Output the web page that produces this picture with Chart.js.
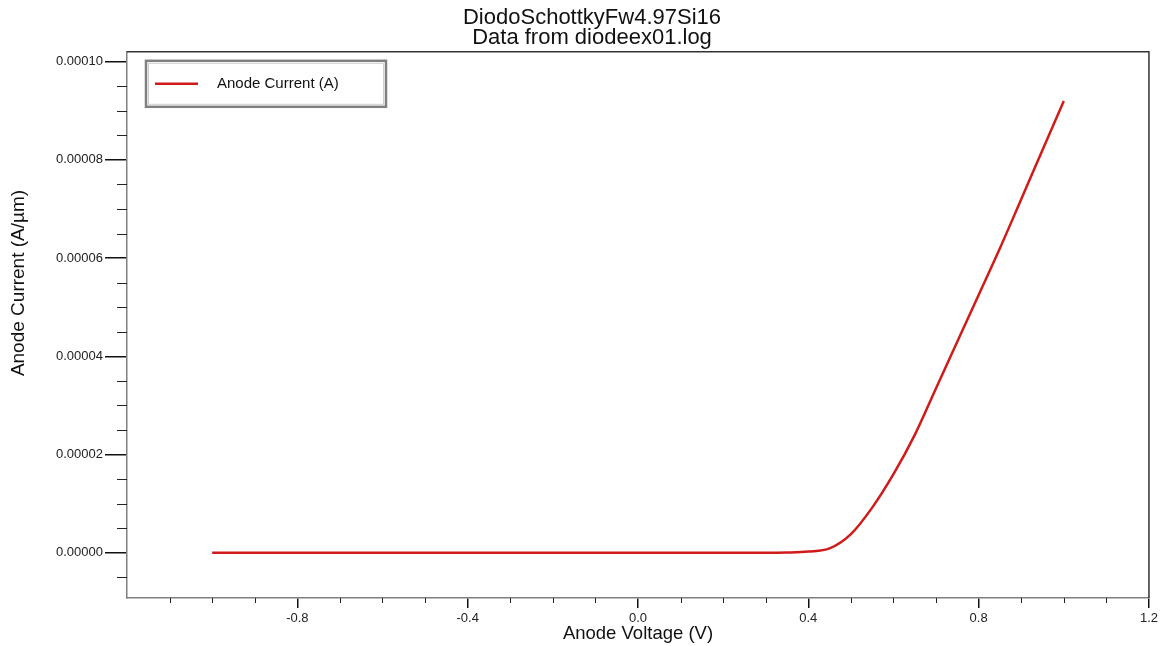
<!DOCTYPE html>
<html>
<head>
<meta charset="utf-8">
<script src="https://cdn.jsdelivr.net/npm/chart.js@4.4.1/dist/chart.umd.min.js"></script>
<style>
  html, body { margin: 0; padding: 0; background: #fff; }
  #wrap { width: 1161px; height: 646px; position: relative; }
</style>
</head>
<body>
<div id="wrap"><canvas id="ivChart"></canvas></div>
<script>
// Anode voltage sweep (V) and anode current (A/um)
const voltage = [-1.0, -0.9, -0.8, -0.7, -0.6, -0.5, -0.4, -0.3, -0.2, -0.1, 0.0,
                 0.1, 0.2, 0.3, 0.35, 0.4, 0.45, 0.5, 0.55, 0.6, 0.65, 0.7,
                 0.75, 0.8, 0.85, 0.9, 0.95, 1.0];
const current = [0, 0, 0, 0, 0, 0, 0, 0, 0, 0, 0,
                 0, 0, 0, 0.00000005, 0.00000025, 0.0000009, 0.0000038, 0.0000092, 0.000016, 0.000024, 0.0000335,
                 0.000043, 0.0000525, 0.000062, 0.000072, 0.000082, 0.000092];

const xMajorTicks = [-1.2, -0.8, -0.4, 0.0, 0.4, 0.8, 1.2];
const yMajorTicks = [0, 0.00002, 0.00004, 0.00006, 0.00008, 0.0001];
const xMinorStep = 0.1;
const yMinorStep = 0.000005;

const titleLines = ['DiodoSchottkyFw4.97Si16', 'Data from diodeex01.log'];
const seriesLabel = 'Anode Current (A)';
const xTitle = 'Anode Voltage (V)';
const yTitle = 'Anode Current (A/\u00b5m)';

const lineColor = '#d01b1b';
const textFont = "'Liberation Sans', Arial, sans-serif";

// box, minor ticks, legend and rotated y title
const framePlugin = {
    id: 'frame',
    afterDraw(chart) {
        const ctx = chart.ctx;
        const a = chart.chartArea;
        const xs = chart.scales.x;
        const ys = chart.scales.y;
        ctx.save();

        // top and right edges of the plot box
        ctx.strokeStyle = '#333';
        ctx.lineWidth = 1.5;
        ctx.beginPath();
        ctx.moveTo(a.left, a.top);
        ctx.lineTo(a.right, a.top);
        ctx.lineTo(a.right, a.bottom);
        ctx.stroke();

        // minor ticks
        ctx.strokeStyle = '#222';
        ctx.lineWidth = 1;
        ctx.beginPath();
        for (let k = Math.ceil(xs.min / xMinorStep); k * xMinorStep <= xs.max + 1e-9; k++) {
            if (k % 4 === 0) continue;
            const px = Math.round(xs.getPixelForValue(k * xMinorStep)) + 0.5;
            ctx.moveTo(px, a.bottom);
            ctx.lineTo(px, a.bottom + 5);
        }
        for (let k = Math.ceil(ys.min / yMinorStep); k * yMinorStep <= ys.max; k++) {
            if (k % 4 === 0) continue;
            const py = Math.round(ys.getPixelForValue(k * yMinorStep)) + 0.5;
            ctx.moveTo(a.left - 10, py);
            ctx.lineTo(a.left, py);
        }
        ctx.stroke();

        // legend box
        const lx = a.left + 19, ly = a.top + 9, lw = 240, lh = 46;
        ctx.fillStyle = '#fff';
        ctx.fillRect(lx, ly, lw, lh);
        ctx.strokeStyle = '#808080';
        ctx.lineWidth = 2.5;
        ctx.strokeRect(lx, ly, lw, lh);
        ctx.strokeStyle = '#d0d0d0';
        ctx.lineWidth = 1;
        ctx.strokeRect(lx + 2.5, ly + 2.5, lw - 5, lh - 5);
        const ds = chart.data.datasets[0];
        ctx.strokeStyle = ds.borderColor;
        ctx.lineWidth = 2.5;
        ctx.beginPath();
        ctx.moveTo(lx + 9, ly + lh / 2);
        ctx.lineTo(lx + 52, ly + lh / 2);
        ctx.stroke();
        ctx.fillStyle = '#111';
        ctx.font = '15px ' + textFont;
        ctx.textBaseline = 'middle';
        ctx.textAlign = 'left';
        ctx.fillText(ds.label, lx + 71, ly + lh / 2);

        // y axis title
        ctx.translate(19, 283);
        ctx.rotate(-Math.PI / 2);
        ctx.font = '19px ' + textFont;
        ctx.textAlign = 'center';
        ctx.textBaseline = 'middle';
        ctx.fillText(yTitle, 0, 0);
        ctx.restore();
    }
};

new Chart(document.getElementById('ivChart'), {
    type: 'line',
    data: {
        datasets: [
            {
                label: seriesLabel,
                data: voltage.map((v, i) => ({ x: v, y: current[i] })),
                borderColor: lineColor,
                backgroundColor: lineColor,
                borderWidth: 2.5,
                pointRadius: 0,
                fill: false,
                cubicInterpolationMode: 'monotone'
            }
        ]
    },
    options: {
        responsive: true,
        maintainAspectRatio: false,
        animation: false,
        layout: {
            padding: { left: 34, right: 11, top: 0, bottom: 0 }
        },
        plugins: {
            legend: { display: false },
            tooltip: { enabled: false },
            title: {
                display: true,
                text: titleLines,
                color: '#111',
                font: { family: textFont, size: 22, weight: 'normal', lineHeight: 0.95 },
                padding: { top: 7, bottom: 3 }
            }
        },
        scales: {
            x: {
                type: 'linear',
                min: -1.2,
                max: 1.2,
                afterBuildTicks: (scale) => {
                    scale.ticks = xMajorTicks.map(v => ({ value: v }));
                },
                afterFit: (scale) => {
                    scale.height = 48;
                },
                grid: {
                    drawOnChartArea: false,
                    drawTicks: true,
                    tickLength: 10,
                    color: (c) => (c.tick && c.tick.value === -1.2 ? 'rgba(0,0,0,0)' : '#111'),
                    lineWidth: 1.5
                },
                border: { display: true, color: '#808080', width: 1.5 },
                ticks: {
                    color: '#222',
                    padding: 3,
                    maxRotation: 0,
                    autoSkip: false,
                    font: { family: textFont, size: 13 },
                    callback: (v) => (v === -1.2 ? '' : Number(v).toFixed(1))
                },
                title: {
                    display: true,
                    text: xTitle,
                    color: '#111',
                    font: { family: textFont, size: 18.5 },
                    padding: { top: 0, bottom: 1 }
                }
            },
            y: {
                type: 'linear',
                min: -0.0000092,
                max: 0.000102,
                afterBuildTicks: (scale) => {
                    scale.ticks = yMajorTicks.map(v => ({ value: v }));
                },
                afterFit: (scale) => {
                    scale.width = 93;
                },
                grid: {
                    drawOnChartArea: false,
                    drawTicks: true,
                    tickLength: 22,
                    color: '#111',
                    lineWidth: 1.5
                },
                border: { display: true, color: '#808080', width: 1.5 },
                ticks: {
                    color: '#222',
                    padding: 2,
                    autoSkip: false,
                    font: { family: textFont, size: 13 },
                    callback: (v) => Number(v).toFixed(5)
                }
            }
        }
    },
    plugins: [framePlugin]
});
</script>
</body>
</html>
